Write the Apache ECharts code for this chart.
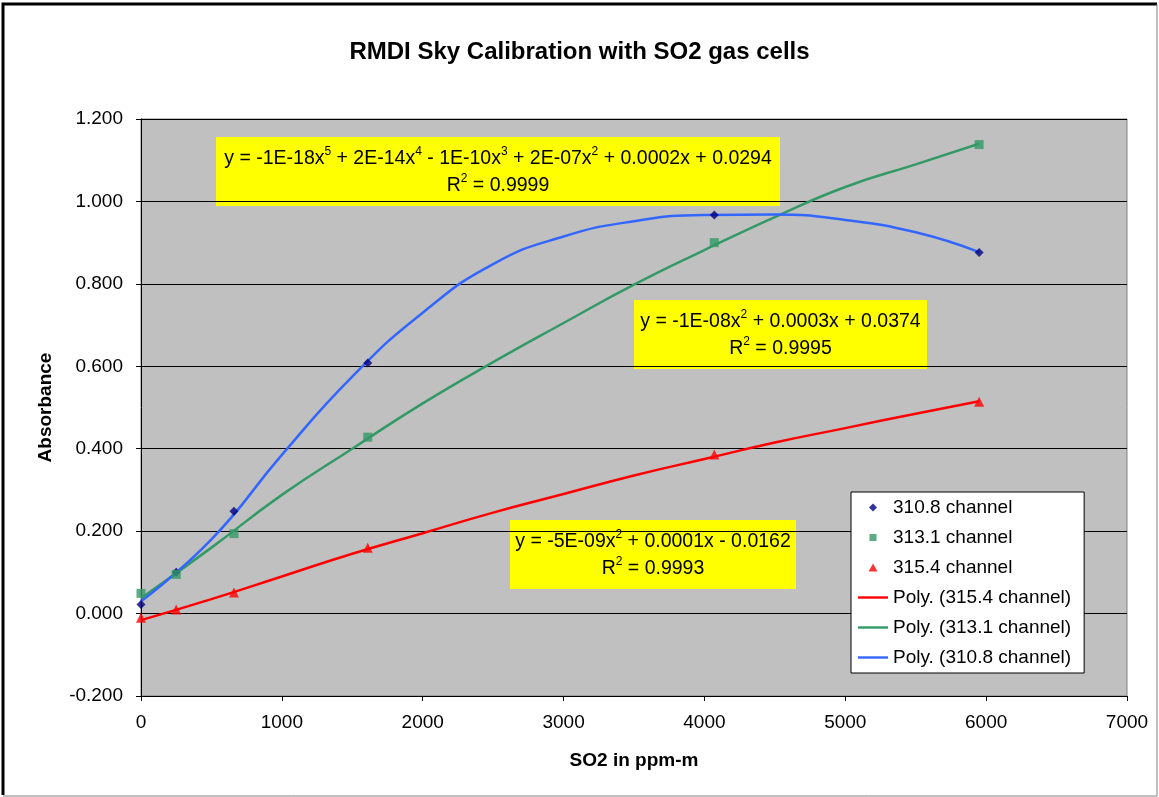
<!DOCTYPE html>
<html>
<head>
<meta charset="utf-8">
<title>RMDI Sky Calibration</title>
<script src="https://cdn.jsdelivr.net/npm/echarts@6/dist/echarts.min.js"></script>
<style>
  html, body { margin: 0; padding: 0; background: #fff; }
  #chart { width: 1159px; height: 797px; }
</style>
</head>
<body>
<div id="chart"></div>
<script>
// measured points (SO2 ppm-m)
var cellPpm = [0, 250, 660, 1610, 4070, 5950]
var abs3108 = [0.022, 0.100, 0.248, 0.608, 0.967, 0.876]
var abs3131 = [0.049, 0.095, 0.194, 0.428, 0.900, 1.138]
var abs3154 = [-0.010, 0.010, 0.051, 0.160, 0.386, 0.514]

// trend lines
var trendPpm = [0, 500, 1000, 1500, 2000, 2500, 3000, 3500, 4000, 4500, 5000, 5500, 5950]
var trend3108 = [0.030, 0.180, 0.385, 0.575, 0.730, 0.848, 0.915, 0.952, 0.967, 0.968, 0.955, 0.925, 0.877]
var trend3131 = [0.037, 0.160, 0.288, 0.400, 0.510, 0.610, 0.705, 0.798, 0.882, 0.962, 1.035, 1.090, 1.140]
var trend3154 = [-0.016, 0.035, 0.090, 0.145, 0.195, 0.245, 0.290, 0.335, 0.375, 0.415, 0.450, 0.485, 0.515]

var xTicks = {min: 0, max: 7000, step: 1000}
var yTicks = {min: -0.2, max: 1.2, step: 0.2}

function pairs(xs, ys) {
  return xs.map(function (x, i) { return [x, ys[i]] })
}

var font = 'Liberation Sans, Arial, sans-serif'
var rich = {
  n: {fontSize: 19.5, fontFamily: font, color: '#000', lineHeight: 27},
  s: {fontSize: 12, fontFamily: font, color: '#000', lineHeight: 27, verticalAlign: 'top', padding: [0, 0, 9, 0]}
}

// yellow equation boxes
function eqBox(x, y, w, h, txt) {
  return {
    type: 'group',
    z: 100,
    children: [
      {type: 'rect', shape: {x: x, y: y, width: w, height: h}, style: {fill: '#ffff00'}},
      {
        type: 'text', x: x + w / 2, y: y + h / 2 + 1,
        style: {text: txt, rich: rich, align: 'center', verticalAlign: 'middle', fontFamily: font, fontSize: 19.5}
      }
    ]
  }
}

// legend icons, drawn inside a 30x9 box so they keep their shape
var icons = {
  diamond: 'path://M0,0M30,9M15,0.5L19,4.5L15,8.5L11,4.5Z',
  square: 'path://M0,0M30,9M11.5,1L18.5,1L18.5,8L11.5,8Z',
  triangle: 'path://M0,0M30,9M15,0.5L19.5,8.5L10.5,8.5Z',
  line: 'path://M0,0M30,9M0,3.3L30,3.3L30,5.7L0,5.7Z'
}

var chart = echarts.init(document.getElementById('chart'))

var option = {
  backgroundColor: '#fff',
  animation: false,
  title: {
    text: 'RMDI Sky Calibration with SO2 gas cells',
    left: 'center',
    top: 35,
    textStyle: {fontFamily: font, fontSize: 24, fontWeight: 'bold', color: '#000'}
  },
  grid: {
    left: 141, right: 32, top: 119, bottom: 101,
    show: true, backgroundColor: '#c0c0c0', borderColor: '#808080', borderWidth: 1
  },
  legend: {
    orient: 'vertical',
    left: 851, top: 492,
    padding: [6, 13, 6, 7],
    backgroundColor: '#fff',
    borderColor: '#000',
    borderWidth: 1,
    itemWidth: 30,
    itemHeight: 9,
    itemGap: 11,
    textStyle: {fontFamily: font, fontSize: 19, color: '#000'},
    data: [
      {name: '310.8 channel', icon: icons.diamond},
      {name: '313.1 channel', icon: icons.square},
      {name: '315.4 channel', icon: icons.triangle},
      {name: 'Poly. (315.4 channel)', icon: icons.line},
      {name: 'Poly. (313.1 channel)', icon: icons.line},
      {name: 'Poly. (310.8 channel)', icon: icons.line}
    ]
  },
  xAxis: {
    type: 'value',
    min: xTicks.min, max: xTicks.max, interval: xTicks.step,
    name: 'SO2 in ppm-m',
    nameLocation: 'middle',
    nameGap: 55,
    nameTextStyle: {fontFamily: font, fontSize: 19, fontWeight: 'bold', color: '#000'},
    axisLine: {onZero: false, lineStyle: {color: '#000'}},
    axisTick: {show: true, length: 5, lineStyle: {color: '#000'}},
    axisLabel: {
      fontFamily: font, fontSize: 19, color: '#000', margin: 17,
      formatter: function (v) { return String(v) }
    },
    splitLine: {show: false}
  },
  yAxis: {
    type: 'value',
    min: yTicks.min, max: yTicks.max, interval: yTicks.step,
    name: 'Absorbance',
    nameLocation: 'middle',
    nameGap: 86,
    nameTextStyle: {fontFamily: font, fontSize: 19, fontWeight: 'bold', color: '#000'},
    axisLine: {show: true, lineStyle: {color: '#000'}},
    axisTick: {show: true, length: 5, lineStyle: {color: '#000'}},
    axisLabel: {
      fontFamily: font, fontSize: 19, color: '#000', margin: 18,
      formatter: function (v) {
        if (Math.abs(v) < 1e-9) v = 0
        return v.toFixed(3)
      }
    },
    splitLine: {show: true, lineStyle: {color: '#000', width: 1}}
  },
  series: [
    {
      name: 'Poly. (315.4 channel)', type: 'line', smooth: 0.5, symbol: 'none',
      lineStyle: {color: '#ff0000', width: 2.5}, itemStyle: {color: '#ff0000'},
      data: pairs(trendPpm, trend3154)
    },
    {
      name: 'Poly. (313.1 channel)', type: 'line', smooth: 0.5, symbol: 'none',
      lineStyle: {color: '#339966', width: 2.5}, itemStyle: {color: '#339966'},
      data: pairs(trendPpm, trend3131)
    },
    {
      name: 'Poly. (310.8 channel)', type: 'line', smooth: 0.5, symbol: 'none',
      lineStyle: {color: '#3366ff', width: 2.5}, itemStyle: {color: '#3366ff'},
      data: pairs(trendPpm, trend3108)
    },
    {
      name: '310.8 channel', type: 'scatter', symbol: 'diamond', symbolSize: 9,
      itemStyle: {color: '#000080'}, z: 5,
      data: pairs(cellPpm, abs3108)
    },
    {
      name: '313.1 channel', type: 'scatter', symbol: 'rect', symbolSize: 9,
      itemStyle: {color: '#339966'}, z: 5,
      data: pairs(cellPpm, abs3131)
    },
    {
      name: '315.4 channel', type: 'scatter', symbol: 'triangle', symbolSize: 10,
      itemStyle: {color: '#ff0000'}, z: 5,
      data: pairs(cellPpm, abs3154)
    }
  ],
  graphic: [
    // outer frame
    {type: 'polyline', z: 100, shape: {points: [[3, 795], [3, 4], [1157, 4]]}, style: {stroke: '#000', lineWidth: 3, fill: null}},
    {type: 'polyline', z: 100, shape: {points: [[1157, 4], [1157, 796], [3, 796]]}, style: {stroke: '#808080', lineWidth: 1, fill: null}},
    eqBox(216, 137, 564, 69,
      '{n|y = -1E-18x}{s|5}{n| + 2E-14x}{s|4}{n| - 1E-10x}{s|3}{n| + 2E-07x}{s|2}{n| + 0.0002x + 0.0294}\n{n|R}{s|2}{n| = 0.9999}'),
    eqBox(634, 300, 293, 69,
      '{n|y = -1E-08x}{s|2}{n| + 0.0003x + 0.0374}\n{n|R}{s|2}{n| = 0.9995}'),
    eqBox(510, 520, 286, 69,
      '{n|y = -5E-09x}{s|2}{n| + 0.0001x - 0.0162}\n{n|R}{s|2}{n| = 0.9993}')
  ]
}

chart.setOption(option)
</script>
</body>
</html>
